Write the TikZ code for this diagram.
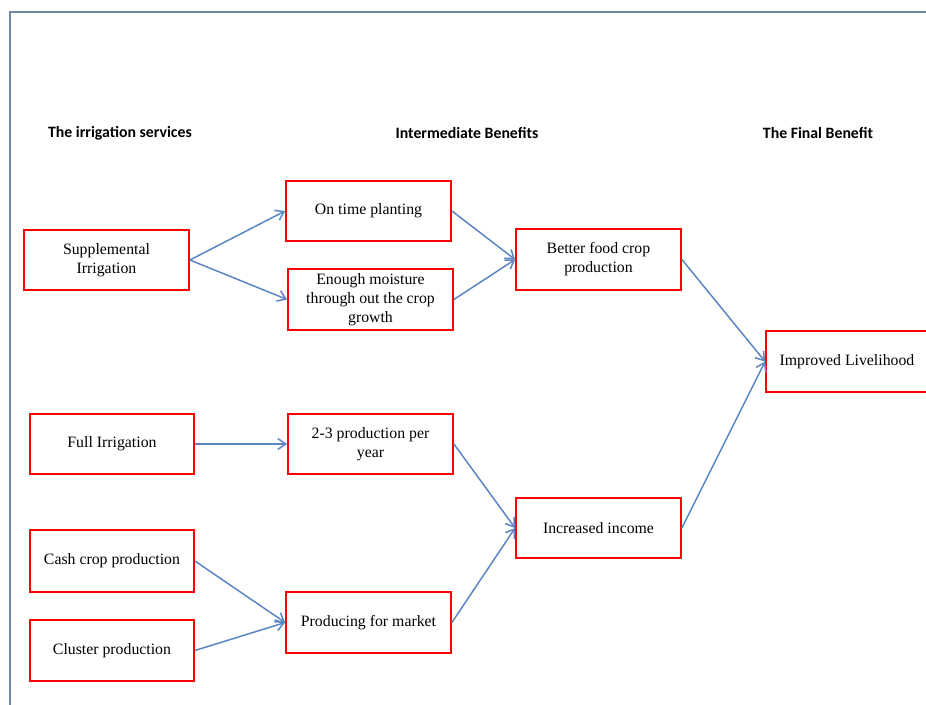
\documentclass[tikz,border=0pt]{standalone}
\usepackage{fontspec}
\setmainfont{Liberation Serif}
\newfontfamily\headfont{Carlito}
\usetikzlibrary{arrows.meta}
\definecolor{framegray}{HTML}{6E87A8}
\definecolor{linkblue}{HTML}{5B85C3}
\begin{document}
\begin{tikzpicture}[x=1pt,y=-1pt,
  box/.style={draw=red,line width=1.8pt,rectangle,inner sep=0pt,align=center,
    minimum width=165pt,minimum height=60pt,font=\fontsize{15.8}{19}\selectfont},
  head/.style={font=\headfont\bfseries\fontsize{15.8}{18}\selectfont,inner sep=0pt},
  link/.style={draw=linkblue,line width=1.5pt,-{Straight Barb[length=8pt,width=11pt]}}]
\useasboundingbox (0,0) rectangle (926,704);
% page frame (top and left edges)
\draw[framegray,line width=2.4pt] (10,710) -- (10,12) -- (930,12);

% column headings
\node[head] (h1) at (120,133) {The irrigation services};
\node[head] (h2) at (467,133) {Intermediate Benefits};
\node[head] (h3) at (818,133) {The Final Benefit};

% boxes
\node[box] (supp) at (106.5,260) {Supplemental\\Irrigation};
\node[box] (ontime) at (368.5,211) {On time planting};
\node[box,minimum height=61pt] (moist) at (370.5,299.5) {Enough moisture\\through out the crop\\growth};
\node[box,minimum height=61pt] (better) at (598.5,259.5) {Better food crop\\production};
\node[box,minimum width=162pt,minimum height=61pt] (improved) at (847,361.5) {Improved Livelihood};
\node[box,minimum width=164pt] (full) at (112,444) {Full Irrigation};
\node[box] (twothree) at (370.5,444) {2-3 production per\\year};
\node[box] (income) at (598.5,528) {Increased income};
\node[box,minimum width=164pt,minimum height=62pt] (cash) at (112,561) {Cash crop production};
\node[box,minimum width=164pt,minimum height=61pt] (cluster) at (112,650.5) {Cluster production};
\node[box,minimum height=61pt] (market) at (368.5,622.5) {Producing for market};

% connectors
\draw[link] (supp.east) -- (ontime.west);
\draw[link] (supp.east) -- (moist.west);
\draw[link] (ontime.east) -- (better.west);
\draw[link] (moist.east) -- (better.west);
\draw[link] (better.east) -- (improved.west);
\draw[link] (full.east) -- (twothree.west);
\draw[link] (twothree.east) -- (income.west);
\draw[link] (cash.east) -- (market.west);
\draw[link] (cluster.east) -- (market.west);
\draw[link] (market.east) -- (income.west);
\draw[link] (income.east) -- (improved.west);
\end{tikzpicture}
\end{document}
